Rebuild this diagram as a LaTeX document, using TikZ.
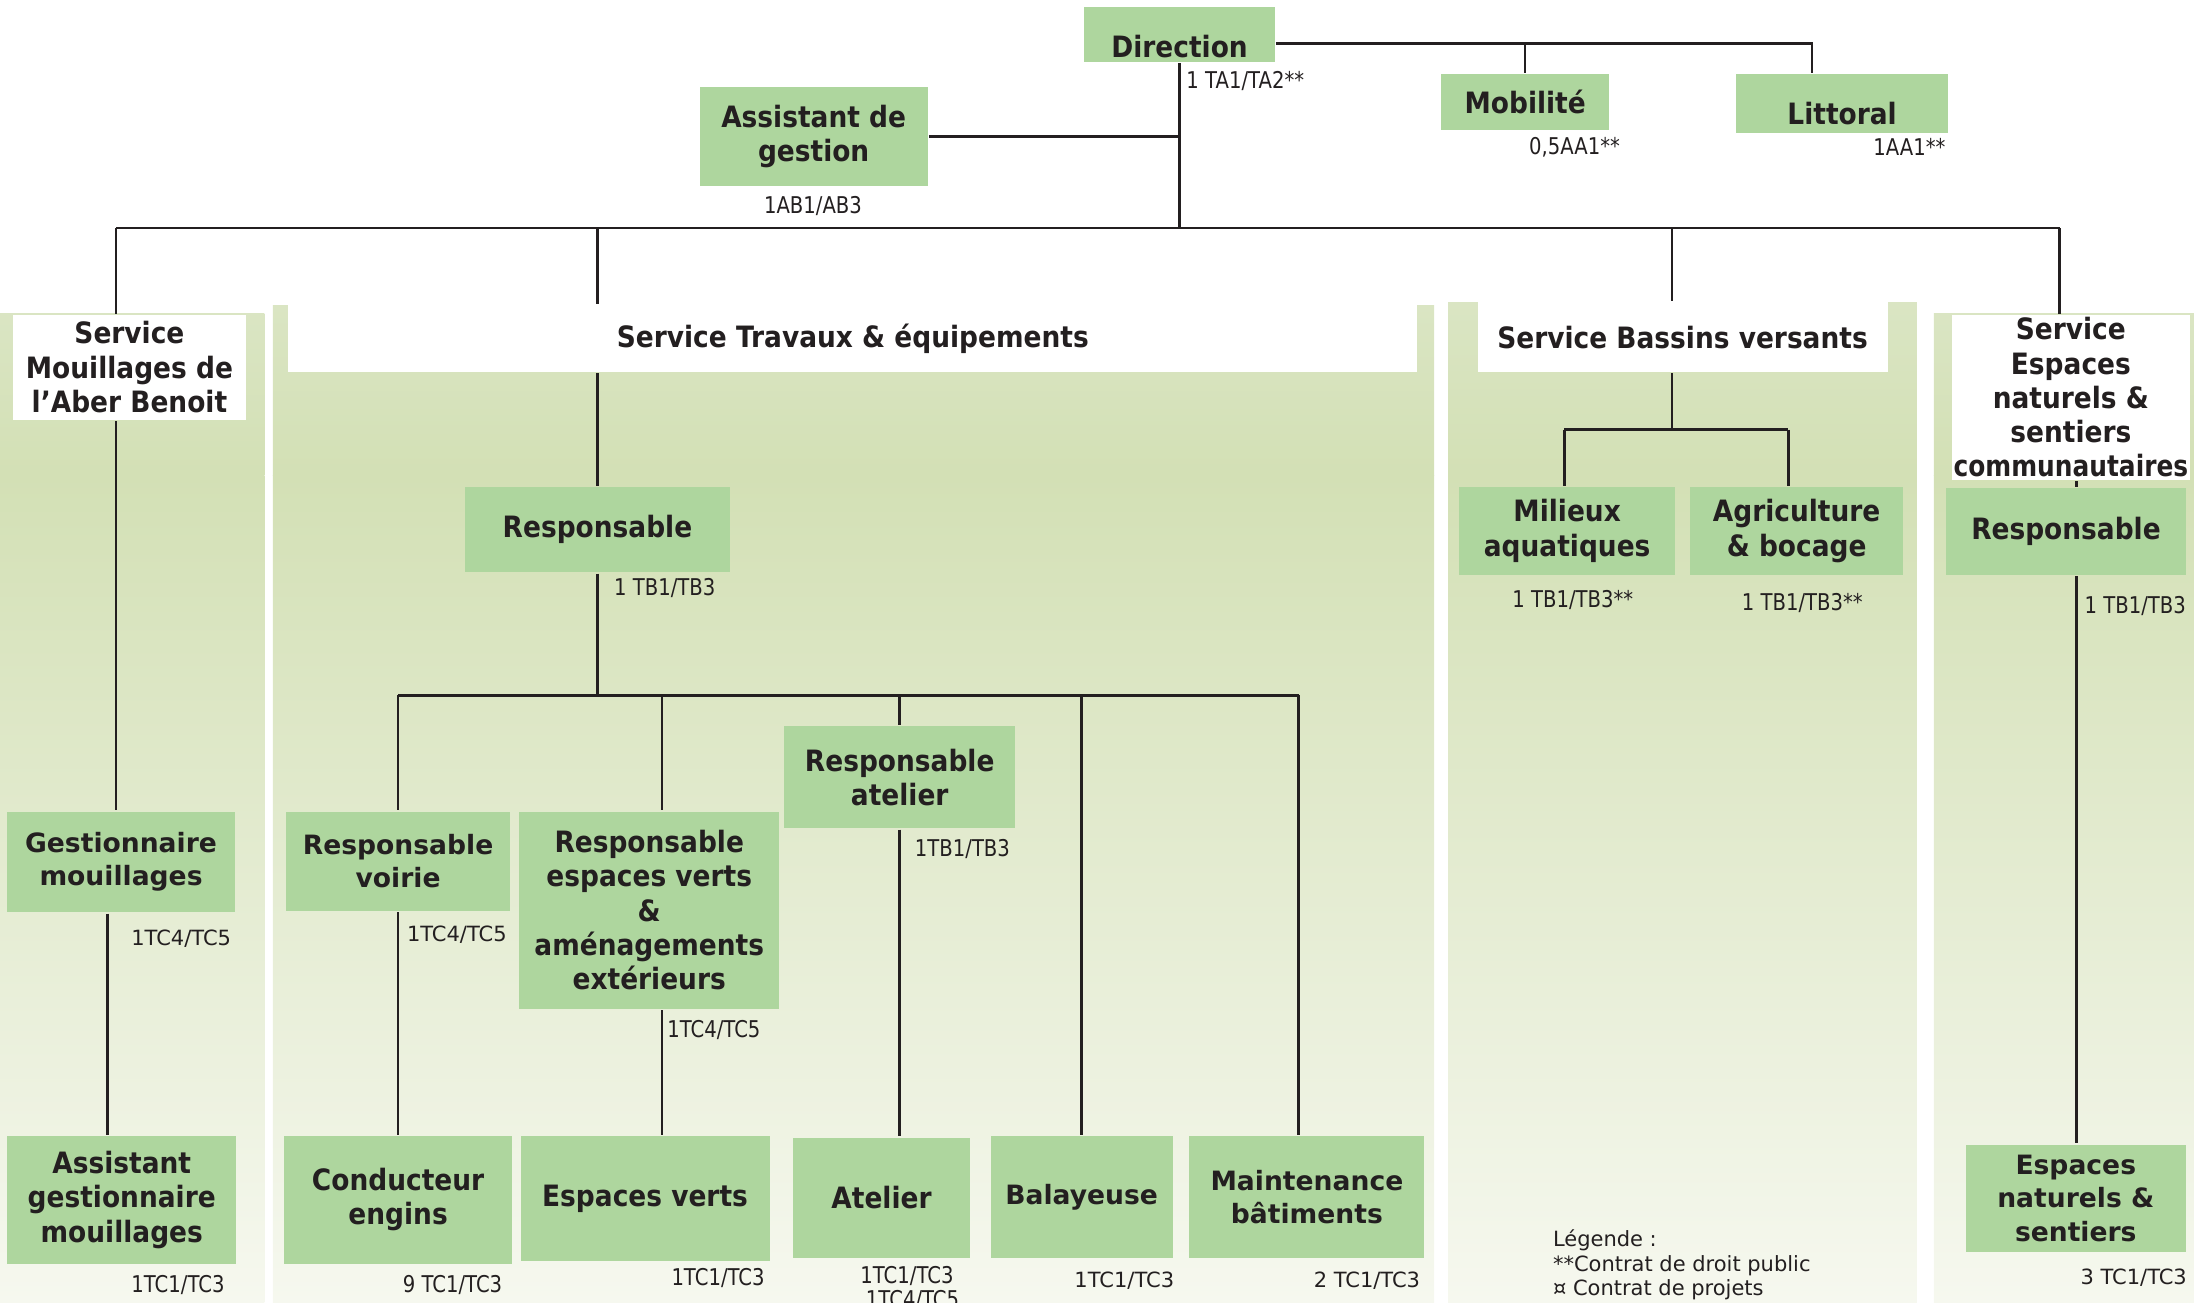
\documentclass[tikz,border=0pt]{standalone}
\usepackage{fontspec}
\usepackage{graphicx}
\setmainfont{DejaVu Sans}
\newfontfamily\narrowfont[FakeStretch=0.9]{DejaVu Sans}
\newfontfamily\narrowgrade[FakeStretch=0.85]{DejaVu Sans}
\usepackage{tikz}
\definecolor{postgreen}{HTML}{AED69E}
\definecolor{paneltop}{HTML}{DAE5C3}
\definecolor{panelmid}{HTML}{D3E0B5}
\definecolor{panelbot}{HTML}{F6F8EF}
\definecolor{inkdark}{HTML}{231F20}
\tikzstyle{post}=[fill=postgreen,inner sep=0pt,align=center,
                  font=\narrowfont\bfseries\fontsize{21}{24.5}\selectfont]
\tikzstyle{widepost}=[post,font=\bfseries\fontsize{19}{24}\selectfont]
\tikzstyle{heading}=[post,fill=white]
\tikzstyle{grade}=[anchor=west,inner sep=0pt,
                   font=\narrowgrade\fontsize{16.5}{17}\selectfont]
\tikzstyle{widegrade}=[grade,font=\fontsize{15}{17.5}\selectfont]

\begin{document}
\begin{tikzpicture}[x=1pt,y=-1pt,color=inkdark,line width=1.8pt]
    \newcommand{\panelbg}[3]{%
      \fill[top color=paneltop,bottom color=panelmid] (#1,#3) rectangle (#2,340);
      \fill[top color=panelmid,bottom color=panelbot] (#1,340) rectangle (#2,931);}
    \useasboundingbox (0,0) rectangle (1568,931);
    \panelbg{0}{189}{224}
    \panelbg{195}{1025}{218}
    \panelbg{1035}{1370}{216}
    \panelbg{1382}{1568}{224}

    \node (dir) at (843,24.5) [post,minimum width=136pt,minimum height=39pt,
                               text height=36pt,text depth=3pt]{Direction};
    \node (mob) at (1090,73) [post,minimum width=120pt,minimum height=40pt]{Mobilité};
    \node (lit) at (1316.5,74) [post,minimum width=151pt,minimum height=42pt,
                                text height=34pt,text depth=4pt]{Littoral};
    \node (ag) at (581.5,97.5) [post,minimum width=163pt,minimum height=71pt]{Assistant de\\gestion};
    \node at (847,58) [grade]{1 TA1/TA2**};
    \node at (1092,105) [grade]{0,5AA1**};
    \node at (1338,105) [grade]{1AA1**};
    \node at (581,147) [grade,anchor=center]{1AB1/AB3};

    \node (s1) at (92.5,262.5) [heading,minimum width=167pt,minimum height=75pt]
          {Service\\Mouillages de\\l’Aber Benoit};
    \node (s2) at (609.5,242) [heading,minimum width=807pt,minimum height=48pt]
          {Service Travaux \& équipements};
    \node (s3) at (1202.5,241) [heading,minimum width=293pt,minimum height=50pt]
          {Service Bassins versants};
    \node (s4) at (1480,284) [heading,minimum width=170pt,minimum height=118pt]
          {Service\\Espaces\\naturels \&\\sentiers\\\scalebox{0.94}[1]{communautaires}};

    \node (gm) at (86.5,616) [widepost,minimum width=163pt,minimum height=72pt]{Gestionnaire\\mouillages};
    \node (agm) at (87,857.5) [post,minimum width=164pt,minimum height=91pt]{Assistant\\gestionnaire\\mouillages};
    \node at (93,671) [widegrade]{1TC4/TC5};
    \node at (93,918) [grade]{1TC1/TC3};

    \node (resp) at (427,378.5) [post,minimum width=190pt,minimum height=61pt]{Responsable};
    \node (rv) at (284.5,615.5) [widepost,minimum width=160pt,minimum height=71pt]{Responsable\\voirie};
    \node (rev) at (464,650.5) [post,minimum width=186pt,minimum height=141pt]
          {Responsable\\espaces verts\\\&\\aménagements\\extérieurs};
    \node (ra) at (643,555.5) [post,minimum width=165pt,minimum height=73pt]{Responsable\\atelier};
    \node (ce) at (284.5,857.5) [post,minimum width=163pt,minimum height=91pt]{Conducteur\\engins};
    \node (ev) at (461,856.5) [post,minimum width=178pt,minimum height=89pt]{Espaces verts};
    \node (at) at (630,856) [post,minimum width=126pt,minimum height=86pt]{Atelier};
    \node (bal) at (773,855.5) [widepost,minimum width=130pt,minimum height=87pt]{Balayeuse};
    \node (mb) at (934,855.5) [widepost,minimum width=168pt,minimum height=87pt]{Maintenance\\bâtiments};
    \node at (438,420) [grade]{1 TB1/TB3};
    \node at (290,668) [widegrade]{1TC4/TC5};
    \node at (476,736) [grade]{1TC4/TC5};
    \node at (653,607) [grade]{1TB1/TB3};
    \node at (287,918) [grade]{9 TC1/TC3};
    \node at (479,913) [grade]{1TC1/TC3};
    \node at (614,912) [grade]{1TC1/TC3};
    \node at (618,929) [grade]{1TC4/TC5};
    \node at (767,915) [widegrade]{1TC1/TC3};
    \node at (938,915) [widegrade]{2 TC1/TC3};

    \node (ma) at (1120,379.5) [post,minimum width=154pt,minimum height=63pt]{Milieux\\aquatiques};
    \node (agr) at (1284,379.5) [post,minimum width=152pt,minimum height=63pt]{Agriculture\\\& bocage};
    \node at (1080,429) [grade]{1 TB1/TB3**};
    \node at (1244,431) [grade]{1 TB1/TB3**};
    \node (leg) at (1109,904) [widegrade,align=left]
          {Légende :\\**Contrat de droit public\\¤ Contrat de projets};

    \node (r4) at (1476.5,380) [post,minimum width=171pt,minimum height=62pt]{Responsable};
    \node (en) at (1483.5,856.5) [widepost,minimum width=157pt,minimum height=77pt]
          {Espaces\\naturels \&\\sentiers};
    \node at (1489,433) [grade]{1 TB1/TB3};
    \node at (1486,913) [widegrade]{3 TC1/TC3};

    \coordinate (hub) at (843,163);
    \coordinate (barL) at (83,163);
    \coordinate (barR) at (1472,163);
    \coordinate (topR) at (1295,31);
    \draw (barL) -- (barR);
    \draw (dir) -- (hub);
    \draw (ag) -- (ag -| hub);
    \draw (dir.east |- topR) -- (topR) -- (topR |- lit.north);
    \draw (mob.north |- topR) -- (mob.north);

    \coordinate (gmdrop) at (77,0);
    \draw (barL) -- (barL |- s1.north);
    \draw (barL |- s1.south) -- (barL |- gm.north);
    \draw (gmdrop |- gm.south) -- (gmdrop |- agm.north);

    \coordinate (tbL) at (284.5,497);
    \coordinate (tbR) at (928,497);
    \coordinate (evdrop) at (473,497);
    \draw (resp |- barL) -- (resp |- s2.north);
    \draw (resp |- s2.south) -- (resp);
    \draw (resp) -- (resp |- tbL);
    \draw (tbL) -- (tbR);
    \draw (tbL) -- (rv);
    \draw (rv) -- (ce);
    \draw (evdrop) -- (evdrop |- rev.north);
    \draw (evdrop |- rev.south) -- (evdrop |- ev.north);
    \draw (ra |- tbL) -- (ra);
    \draw (ra) -- (ra |- at.north);
    \draw (bal |- tbL) -- (bal);
    \draw (tbR) -- (tbR |- mb.north);

    \coordinate (bvdrop) at (1195,163);
    \coordinate (bvL) at (1118,307);
    \coordinate (bvR) at (1278,307);
    \draw (bvdrop) -- (bvdrop |- s3.north);
    \draw (bvdrop |- s3.south) -- (bvdrop |- bvL);
    \draw (bvL) -- (bvR);
    \draw (bvL) -- (bvL |- ma.north);
    \draw (bvR) -- (bvR |- agr.north);

    \coordinate (endrop) at (1484,0);
    \draw (barR) -- (barR |- s4.north);
    \draw (endrop |- s4.south) -- (endrop |- r4.north);
    \draw (endrop |- r4.south) -- (endrop |- en.north);
\end{tikzpicture}
\end{document}
